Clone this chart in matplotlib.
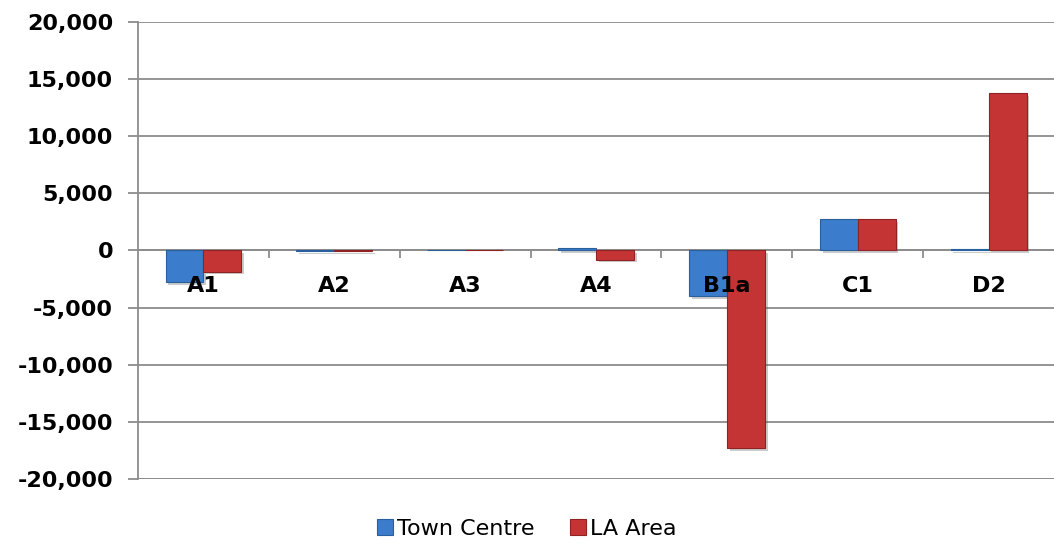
import matplotlib.pyplot as plt
import matplotlib.patheffects as pe
import numpy as np
from matplotlib.ticker import FuncFormatter, FixedLocator

categories = ["A1", "A2", "A3", "A4", "B1a", "C1", "D2"]
town_centre = [-2800, -30, 40, 250, -4000, 2750, 100]
la_area = [-1850, -30, 40, -800, -17300, 2750, 13750]

fig = plt.figure(figsize=(10.54, 5.47), dpi=100)
ax = fig.add_axes([0.131, 0.1243, 0.869, 0.8355])

x = np.arange(len(categories))
w = 0.29
shadow = [pe.SimplePatchShadow(offset=(2, -2), shadow_rgbFace="#555555", alpha=0.3), pe.Normal()]

b1 = ax.bar(x - w / 2, town_centre, w, color="#3b7ccc", edgecolor="#2a5f9e", linewidth=0.8,
            label="Town Centre", zorder=3)
b2 = ax.bar(x + w / 2, la_area, w, color="#c53434", edgecolor="#8f2222", linewidth=0.8,
            label="LA Area", zorder=3)
for bar in list(b1) + list(b2):
    bar.set_path_effects(shadow)

ax.set_xlim(-0.5, len(categories) - 0.5)
ax.set_ylim(-20000, 20000)
ax.set_yticks(np.arange(-20000, 20001, 5000))
ax.yaxis.set_major_formatter(FuncFormatter(lambda v, p: f"{int(v):,}"))
ax.grid(axis="y", color="#8c8c8c", linewidth=1.3, zorder=0)
ax.set_axisbelow(True)

# category axis crosses at zero
ax.spines["bottom"].set_position(("data", 0))
ax.spines["bottom"].set_color("#8c8c8c")
ax.spines["bottom"].set_linewidth(1.3)
ax.spines["left"].set_color("#8c8c8c")
ax.spines["left"].set_linewidth(1.3)
ax.spines["top"].set_visible(False)
ax.spines["right"].set_visible(False)

ax.set_xticks(x)
ax.set_xticklabels([])
ax.xaxis.set_minor_locator(FixedLocator(np.arange(0.5, len(categories) - 1, 1)))
ax.tick_params(axis="x", which="major", length=0)
ax.tick_params(axis="x", which="minor", length=6, color="#8c8c8c", width=1.3)
ax.tick_params(axis="y", length=7, color="#8c8c8c", width=1.3, labelsize=16, pad=11)
for t in ax.get_yticklabels():
    t.set_fontweight("bold")

# category labels drawn on top of the bars
for xi, name in zip(x, categories):
    ax.text(xi, -3150, name, ha="center", va="center", fontsize=16,
            fontweight="bold", zorder=6)

# shadow under the plot bottom
ax.axhline(-20000, color="#8c8c8c", linewidth=2,
           path_effects=[pe.SimpleLineShadow(offset=(2, -3), alpha=0.4), pe.Normal()], zorder=1)

leg = fig.legend(handles=[b1, b2], labels=["Town Centre", "LA Area"], loc="lower center",
                 bbox_to_anchor=(0.5, -0.022), ncol=2, frameon=False, fontsize=16,
                 handlelength=0.7, handleheight=0.7, handletextpad=0.2, columnspacing=1.6)
for h in leg.legend_handles:
    h.set_path_effects([])

fig.savefig("out.png", dpi=100)
